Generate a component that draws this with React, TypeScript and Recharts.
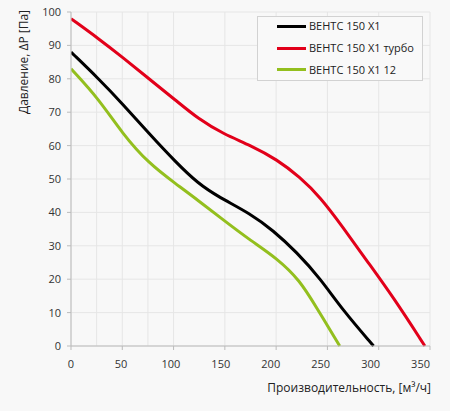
import React from 'react';
import { LineChart, Line, XAxis, YAxis, CartesianGrid, Legend, Label } from 'recharts';

const blackX = [0, 27, 50, 76, 102, 124, 144, 175, 197, 220, 243, 265, 295];
const blackY = [88, 80, 72.6, 63.6, 55.1, 48.6, 44.6, 39.6, 34.6, 28.1, 20.2, 10.7, 0];
const redX = [0, 27, 50, 76, 102, 124, 149, 175, 201, 223, 243, 265, 288, 314, 345];
const redY = [98, 92, 86.5, 80, 73.6, 68, 63.4, 60.1, 55.8, 50.6, 44.6, 35.6, 25.7, 14.7, 0];
const greenX = [0, 27, 50, 76, 102, 124, 149, 175, 201, 223, 239, 262];
const greenY = [83, 74, 63.6, 54.6, 48.6, 43.6, 37.6, 31.6, 26.2, 19.7, 11.7, 0];

const seriesNames = ['ВЕНТС 150 Х1', 'ВЕНТС 150 Х1 турбо', 'ВЕНТС 150 Х1 12'];
const seriesColors = ['#000000', '#e2001a', '#93bf1e'];

const xTicks = [0, 50, 100, 150, 200, 250, 300, 350];
const yTicks = [0, 10, 20, 30, 40, 50, 60, 70, 80, 90, 100];
const xGrid = [0, 25, 50, 75, 100, 125, 150, 175, 200, 225, 250, 275, 300, 325, 350];
const yGrid = [0, 5, 10, 15, 20, 25, 30, 35, 40, 45, 50, 55, 60, 65, 70, 75, 80, 85, 90, 95, 100];

const xLabel = 'Производительность, [м³/ч]';
const yLabel = 'Давление, ΔP [Па]';

const toData = (xs: number[], ys: number[]) => xs.map((q, i) => ({ q, p: ys[i] }));
const allData = [toData(blackX, blackY), toData(redX, redY), toData(greenX, greenY)];

const FONT = '"Open Sans", "Noto Sans", sans-serif';

const XTick = (props: any) => {
  const { x, y, payload } = props;
  return (
    <text x={x - payload.value * 0.027} y={y} dy="0.71em" textAnchor="middle" fontSize={11} fill="#333" fontFamily={FONT}>
      {payload.value}
    </text>
  );
};

const LegendBox = () => {
  return (
    <div
      style={{
        boxSizing: 'border-box',
        width: 166,
        height: 65,
        border: '1px solid #d2d2d2',
        background: '#f9f9f9',
        paddingTop: 0,
        fontFamily: FONT,
        fontSize: 11,
        color: '#222',
      }}
    >
      <div style={{ marginTop: -1.5 }}>
        {seriesNames.map((name, i) => (
          <div key={name} style={{ height: 21.8, display: 'flex', alignItems: 'center' }}>
            <div style={{ width: 29, height: 3, background: seriesColors[i], marginLeft: 19, marginRight: 3 }} />
            <span style={{ lineHeight: '12px' }}>{name}</span>
          </div>
        ))}
      </div>
    </div>
  );
};

export default function App() {
  return (
    <div style={{ position: 'fixed', left: 0, top: 0, width: 450, height: 411, background: '#f8f8f8' }}>
      <LineChart width={450} height={411} margin={{ top: 12, right: 20, bottom: 0, left: 0 }}>
        <CartesianGrid stroke="#e6e6e6" verticalValues={xGrid} horizontalValues={yGrid} />
        <XAxis
          dataKey="q"
          type="number"
          domain={[0, 350]}
          ticks={xTicks}
          allowDataOverflow
          height={65}
          tickSize={4}
          tickMargin={10}
          tick={<XTick />}
          axisLine={{ stroke: '#bbbbbb' }}
          tickLine={{ stroke: '#bbbbbb' }}
        >
          <Label
            content={() => (
              <text x={431} y={392} textAnchor="end" fontSize={12} fill="#222" fontFamily={FONT}>
                {xLabel}
              </text>
            )}
          />
        </XAxis>
        <YAxis
          type="number"
          domain={[0, 100]}
          ticks={yTicks}
          width={71}
          tickSize={4}
          tickMargin={6}
          tick={{ fontSize: 11, fill: '#333', fontFamily: FONT }}
          axisLine={{ stroke: '#bbbbbb' }}
          tickLine={{ stroke: '#bbbbbb' }}
        >
          <Label
            content={() => (
              <text
                x={28}
                y={62}
                transform="rotate(-90 28 62)"
                textAnchor="middle"
                fontSize={12}
                fill="#222"
                fontFamily={FONT}
              >
                {yLabel}
              </text>
            )}
          />
        </YAxis>
        <Legend
          layout="vertical"
          align="center"
          verticalAlign="middle"
          content={<LegendBox />}
          wrapperStyle={{ position: 'absolute', left: 257, top: 16, width: 166 }}
        />
        {allData.map((d, i) => (
          <Line
            key={seriesNames[i]}
            data={d}
            dataKey="p"
            name={seriesNames[i]}
            type="basis"
            stroke={seriesColors[i]}
            strokeWidth={3}
            dot={false}
            activeDot={false}
            isAnimationActive={false}
          />
        ))}
      </LineChart>
    </div>
  );
}
